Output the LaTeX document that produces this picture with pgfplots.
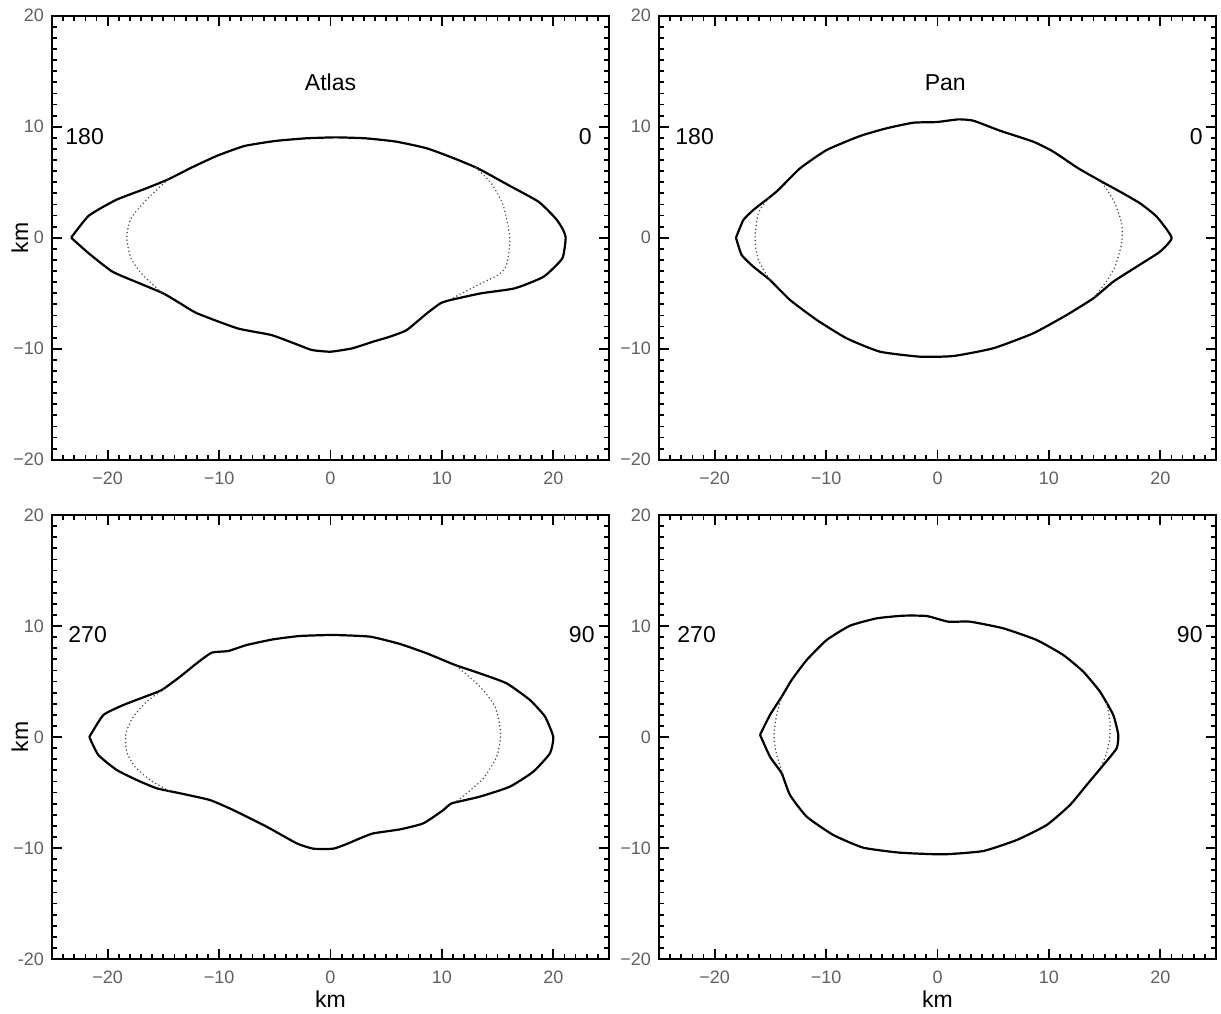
\documentclass[border=0pt]{standalone}
\usepackage{fontspec}
\setmainfont{Liberation Sans}
\usepackage{pgfplots}
\pgfplotsset{compat=1.18}
\definecolor{tickgray}{HTML}{606060}
\tikzset{
  outl/.style={black, line width=1.1pt, line join=round, smooth, tension=0.3},
  dots/.style={black!70, line width=0.85pt, line cap=round, dash pattern=on 0pt off 1.9pt, smooth, tension=0.4},
  lab/.style={font=\fontsize{11.5}{12}\selectfont, text=black, inner sep=0pt},
}
\pgfplotsset{
  panel/.style={
    anchor=north west,
    scale only axis,
    width=278.5pt, height=222pt,
    xmin=-25, xmax=25, ymin=-20, ymax=20,
    xtick={-20,-10,0,10,20},
    ytick={-20,-10,0,10,20},
    xticklabels={−20,−10,0,10,20},
    yticklabels={−20,−10,0,10,20},
    minor xtick={-24,-23,...,24},
    minor ytick={-19,-18,...,19},
    tick align=inside,
    major tick length=5pt,
    minor tick length=2.6pt,
    every tick/.style={black, line width=0.9pt},
    axis line style={line width=1.1pt},
    tick label style={font=\fontsize{9}{10}\selectfont, text=tickgray},
    xticklabel style={yshift=-2.5pt},
    yticklabel style={xshift=-0.5pt},
    clip=false,
  },
  ylab/.style={ylabel={km}, every axis y label/.style={at={(axis description cs:-0.058,0.5)}, rotate=90, anchor=center, font=\fontsize{11.5}{12}\selectfont}},
  xlab/.style={xlabel={km}, every axis x label/.style={at={(axis description cs:0.5,-0.09)}, anchor=center, font=\fontsize{11.5}{12}\selectfont}},
}
\begin{document}
\begin{tikzpicture}
\useasboundingbox (0pt,0pt) rectangle (610.5pt,-506.5pt);
% Top-left: Atlas 180/0
\begin{axis}[panel, ylab, at={(26pt,-7.85pt)}]
\addplot[outl] coordinates {(-23.28,0) (-21.70,1.98) (-19.26,3.40) (-16.53,4.45) (-14.56,5.26) (-12.43,6.34) (-10.16,7.39) (-7.73,8.26) (-5.00,8.71) (-2.26,8.95) (0.47,9.04) (3.20,8.95) (5.93,8.65) (8.66,8.05) (11.09,7.15) (13.22,6.25) (15.95,4.75) (18.68,3.24) (20.20,1.75) (20.81,0.84) (21.11,0) (20.81,-1.86) (19.14,-3.51) (16.55,-4.56) (13.52,-5.01) (10.79,-5.61) (9.87,-5.91) (8.66,-6.81) (6.84,-8.32) (5.32,-8.92) (3.81,-9.37) (1.98,-9.96) (0.01,-10.27) (-1.66,-10.12) (-2.87,-9.67) (-5.30,-8.77) (-8.34,-8.17) (-11.98,-6.81) (-13.50,-5.91) (-15.02,-5.01) (-17.14,-4.11) (-19.57,-3.06) (-21.70,-1.41) (-23.28,0)};
\addplot[dots] coordinates {(-14.6,5.24) (-16.53,3.40) (-17.9,1.75) (-18.29,0) (-17.9,-1.86) (-16.84,-3.36) (-15.08,-5.01)};
\addplot[dots] coordinates {(13.07,6.31) (14.43,4.9) (15.49,2.95) (16.10,0) (15.80,-2.46) (15.04,-3.36) (13.22,-4.26) (10.94,-5.46)};
\node[lab] at (axis cs:0,14) {Atlas};
\node[lab, anchor=west] at (axis cs:-23.83,9.15) {180};
\node[lab, anchor=east] at (axis cs:23.47,9.15) {0};
\end{axis}
% Top-right: Pan 180/0
\begin{axis}[panel, at={(329.5pt,-7.85pt)}]
\addplot[outl] coordinates {(-18.09,0) (-17.43,1.59) (-16.53,2.50) (-15.19,3.55) (-14.29,4.30) (-12.34,6.25) (-9.95,7.90) (-6.96,9.16) (-4.56,9.86) (-2.17,10.36) (-0.07,10.42) (1.87,10.66) (3.22,10.54) (5.61,9.64) (8.60,8.65) (10.40,7.75) (12.64,6.25) (14.74,5.05) (16.38,4.15) (18.18,3.10) (19.68,1.89) (21.02,0) (19.97,-1.26) (17.88,-2.61) (15.78,-3.96) (13.99,-5.46) (11.60,-6.96) (8.60,-8.61) (5.01,-9.96) (1.42,-10.66) (-1.57,-10.72) (-5.16,-10.27) (-8.15,-9.07) (-10.84,-7.41) (-13.24,-5.61) (-15.04,-3.81) (-16.53,-2.61) (-17.58,-1.56) (-18.09,0)};
\addplot[dots] coordinates {(-15.19,3.55) (-16.08,2.2) (-16.38,0) (-16.08,-2.0) (-15.04,-3.81)};
\addplot[dots] coordinates {(14.59,5.2) (15.78,3.40) (16.53,1.3) (16.53,-0.5) (15.93,-2.61) (15.04,-4.11) (13.99,-5.46)};
\node[lab] at (axis cs:0.7,14) {Pan};
\node[lab, anchor=west] at (axis cs:-23.56,9.15) {180};
\node[lab, anchor=east] at (axis cs:23.83,9.15) {0};
\end{axis}
% Bottom-left: Atlas 270/90
\begin{axis}[panel, ylab, xlab, at={(26pt,-257.5pt)}, yticklabels={-20,−10,0,10,20}]
\addplot[outl] coordinates {(-21.65,0) (-20.39,1.98) (-18.60,2.88) (-16.50,3.69) (-15.15,4.23) (-13.51,5.43) (-12.01,6.64) (-10.66,7.60) (-9.17,7.75) (-7.52,8.29) (-5.13,8.80) (-2.74,9.10) (0.25,9.19) (3.55,9.04) (6.24,8.38) (8.64,7.54) (11.18,6.49) (13.42,5.73) (15.82,4.83) (17.91,3.33) (19.26,1.83) (20.0,0) (19.70,-1.47) (18.21,-3.12) (16.11,-4.47) (13.42,-5.37) (10.88,-5.98) (10.13,-6.58) (8.33,-7.78) (6.24,-8.32) (3.84,-8.68) (2.65,-9.13) (1.45,-9.64) (0.25,-10.06) (-1.54,-10.06) (-3.03,-9.58) (-5.73,-8.08) (-8.73,-6.58) (-10.82,-5.68) (-13.51,-5.07) (-15.60,-4.62) (-17.40,-3.87) (-19.19,-2.97) (-20.84,-1.62) (-21.65,0)};
\addplot[dots] coordinates {(-15.0,4.3) (-16.5,3.18) (-17.70,1.83) (-18.36,0.33) (-18.30,-1.32) (-17.55,-2.67) (-16.20,-3.87) (-14.4,-4.9)};
\addplot[dots] coordinates {(11.33,6.4) (13.42,4.53) (14.77,2.73) (15.28,0.33) (14.92,-1.77) (13.72,-3.72) (12.23,-5.07) (11.18,-5.9)};
\node[lab, anchor=west] at (axis cs:-23.56,9.2) {270};
\node[lab, anchor=east] at (axis cs:23.74,9.2) {90};
\end{axis}
% Bottom-right: Pan 270/90
\begin{axis}[panel, xlab, at={(329.5pt,-257.5pt)}]
\addplot[outl] coordinates {(-15.93,0.2) (-15.04,1.98) (-13.99,3.63) (-13.09,5.14) (-11.74,6.94) (-9.95,8.74) (-7.85,10.03) (-5.46,10.69) (-3.07,10.93) (-0.97,10.90) (0.97,10.39) (2.92,10.39) (5.91,9.79) (8.90,8.74) (11.29,7.39) (13.09,5.88) (14.59,4.08) (15.78,1.98) (16.23,0.18) (16.08,-1.02) (14.89,-2.52) (13.39,-4.32) (11.89,-6.13) (9.80,-7.93) (7.11,-9.28) (4.11,-10.27) (0.52,-10.57) (-3.37,-10.42) (-6.66,-9.97) (-9.35,-8.83) (-11.74,-7.18) (-13.24,-5.23) (-13.99,-3.27) (-15.04,-1.77) (-15.93,0.2)};
\addplot[dots] coordinates {(-13.99,3.63) (-14.44,1.98) (-14.68,0.18) (-14.44,-1.62) (-13.84,-3.42)};
\addplot[dots] coordinates {(15.19,3.03) (15.48,1.38) (15.45,-0.12) (15.13,-1.62) (14.59,-2.82)};
\node[lab, anchor=west] at (axis cs:-23.38,9.2) {270};
\node[lab, anchor=east] at (axis cs:23.83,9.2) {90};
\end{axis}
\end{tikzpicture}
\end{document}
